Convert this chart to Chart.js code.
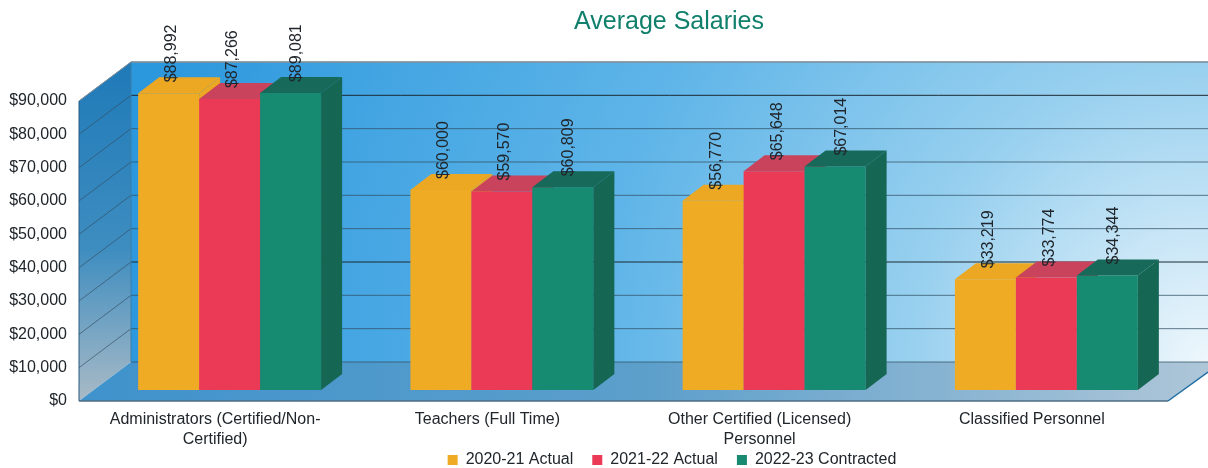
<!DOCTYPE html>
<html>
<head>
<meta charset="utf-8">
<title>Average Salaries</title>
<script src="https://cdn.jsdelivr.net/npm/chart.js@4/dist/chart.umd.min.js"></script>
<style>
  html, body { margin: 0; padding: 0; background: #fff; }
  #wrap { width: 1208px; height: 468px; }
</style>
</head>
<body>
<div id="wrap"><canvas id="myChart" width="1208" height="468"></canvas></div>
<script>
// data
var categories = [
    ['Administrators (Certified/Non-', 'Certified)'],
    'Teachers (Full Time)',
    ['Other Certified (Licensed)', 'Personnel'],
    'Classified Personnel'
];
var actual2021 = [88992, 60000, 56770, 33219];
var actual2122 = [87266, 59570, 65648, 33774];
var contracted2223 = [89081, 60809, 67014, 34344];
var yTicks = [0, 10000, 20000, 30000, 40000, 50000, 60000, 70000, 80000, 90000];

var ink = '#20262b';
var font = '"Liberation Sans", Arial, sans-serif';

// depth of the fake 3d box and of the bars
var boxDx = 52, boxDy = -39;
var barDx = 21, barDy = -16;
var barShiftX = 14.5, barShiftY = -11;

function money(v) {
    return '$' + v.toLocaleString('en-US');
}

function poly(ctx, pts, fill) {
    ctx.beginPath();
    ctx.moveTo(pts[0][0], pts[0][1]);
    for (var i = 1; i < pts.length; i++) {
        ctx.lineTo(pts[i][0], pts[i][1]);
    }
    ctx.closePath();
    ctx.fillStyle = fill;
    ctx.fill();
}

function line(ctx, x1, y1, x2, y2, color, w) {
    ctx.beginPath();
    ctx.moveTo(x1, y1);
    ctx.lineTo(x2, y2);
    ctx.strokeStyle = color;
    ctx.lineWidth = w;
    ctx.stroke();
}

// walls, floor and grid lines
var boxPlugin = {
    id: 'box',
    beforeDatasetsDraw: function(chart) {
        var ctx = chart.ctx;
        var a = chart.chartArea;
        var y = chart.scales.y;
        var w = chart.width;
        var bx = a.left + boxDx;

        var back = ctx.createRadialGradient(1208, 362, 0, 1208, 362, 1100);
        back.addColorStop(0, '#eef7fc');
        back.addColorStop(0.27, '#98d0ef');
        back.addColorStop(0.55, '#5fb5e8');
        back.addColorStop(1, '#2b97dd');
        ctx.fillStyle = back;
        ctx.fillRect(bx, a.top + boxDy, w - bx, a.bottom - a.top);

        var side = ctx.createLinearGradient(0, a.top + boxDy, 0, a.bottom);
        side.addColorStop(0, '#1f7ab8');
        side.addColorStop(0.55, '#3e8dc0');
        side.addColorStop(1, '#a9bac6');
        poly(ctx, [[a.left, a.top], [bx, a.top + boxDy], [bx, a.bottom + boxDy], [a.left, a.bottom]], side);

        var floor = ctx.createLinearGradient(a.left, 0, w, 0);
        floor.addColorStop(0, '#3f92cc');
        floor.addColorStop(0.5, '#5c9fcb');
        floor.addColorStop(1, '#aec6d8');
        poly(ctx, [[a.left, a.bottom], [bx, a.bottom + boxDy], [w, a.bottom + boxDy], [w, a.bottom + boxDy + 10], [a.right, a.bottom]], floor);

        yTicks.forEach(function(t) {
            var py = y.getPixelForValue(t);
            if (t > 0) {
                line(ctx, a.left, py, bx, py + boxDy, 'rgba(50,75,95,0.65)', 1);
            }
            var dark = (t === 30000 || t === 80000);
            line(ctx, bx, py + boxDy, w, py + boxDy, dark ? '#1c2a33' : 'rgba(50,80,100,0.75)', 1);
        });

        line(ctx, a.left, a.top, bx, a.top + boxDy, '#7f97a8', 1);
        line(ctx, bx, a.top + boxDy, w, a.top + boxDy, '#8a9aa5', 1.5);
        line(ctx, bx, a.top + boxDy, bx, a.bottom + boxDy, '#3d7fa8', 1);
        line(ctx, a.left, a.top, a.left, a.bottom, '#2a5a80', 1);
        line(ctx, a.left, a.bottom, a.right, a.bottom, '#4d6c85', 1.5);
        line(ctx, a.right, a.bottom, w, a.bottom + boxDy + 10, '#1f6ea5', 1.5);
    },
    // chart.js paints the last dataset first, here the first must be at the back
    beforeDatasetDraw: function() {
        return false;
    },
    afterDatasetsDraw: function(chart) {
        var ctx = chart.ctx;
        // bars sit inside the box, not on its front edge
        ctx.save();
        ctx.translate(barShiftX, barShiftY);
        chart.data.datasets.forEach(function(ds, i) {
            chart.getDatasetMeta(i).data.forEach(function(bar) {
                bar.draw(ctx);
                var p = bar.getProps(['x', 'y', 'base', 'width'], true);
                var l = p.x - p.width / 2, r = p.x + p.width / 2;
                poly(ctx, [[l, p.y], [l + barDx, p.y + barDy], [r + barDx, p.y + barDy], [r, p.y]], ds.topColor);
                poly(ctx, [[r, p.y], [r + barDx, p.y + barDy], [r + barDx, p.base + barDy], [r, p.base]], ds.sideColor);
            });
        });
        ctx.restore();
        // rotated value labels, on top of everything
        chart.data.datasets.forEach(function(ds, i) {
            chart.getDatasetMeta(i).data.forEach(function(bar, j) {
                ctx.save();
                ctx.translate(bar.x + barShiftX + ds.labelNudge, bar.y + barShiftY - 11);
                ctx.rotate(-Math.PI / 2);
                ctx.font = '16px ' + font;
                ctx.fillStyle = ink;
                ctx.textAlign = 'left';
                ctx.textBaseline = 'middle';
                ctx.fillText(money(ds.data[j]), 0, 0);
                ctx.restore();
            });
        });
    },
    // title and legend are off centre in the picture, x labels need room below the axis
    afterLayout: function(chart) {
        chart.titleBlock.left += 85;
        chart.titleBlock.right += 85;
        chart.legend.left += 88;
        chart.legend.right += 88;
        chart.legend.top += 10;
        chart.legend.bottom += 10;
        chart.scales.x.bottom = chart.height;
    }
};

var ctx = document.getElementById('myChart').getContext('2d');
var myChart = new Chart(ctx, {
    type: 'bar',
    data: {
        labels: categories,
        datasets: [
            { label: '2020-21 Actual', data: actual2021, backgroundColor: '#f0ab25', topColor: '#eca823', sideColor: '#eca823', labelNudge: 3, clip: false },
            { label: '2021-22 Actual', data: actual2122, backgroundColor: '#ea3a55', topColor: '#c9435c', sideColor: '#b53048', labelNudge: 3, clip: false },
            { label: '2022-23 Contracted', data: contracted2223, backgroundColor: '#168b72', topColor: '#17695a', sideColor: '#156653', labelNudge: 6, clip: false }
        ]
    },
    options: {
        responsive: false,
        animation: false,
        categoryPercentage: 0.672,
        barPercentage: 1,
        layout: { padding: { left: 0, right: 40, top: 0, bottom: 0 } },
        plugins: {
            title: {
                display: true,
                text: 'Average Salaries',
                color: '#10806c',
                font: { family: font, size: 25, weight: 'normal' },
                padding: { top: 7, bottom: 64 }
            },
            legend: {
                position: 'bottom',
                labels: {
                    color: ink,
                    font: { family: font, size: 16 },
                    boxWidth: 10,
                    boxHeight: 10,
                    padding: 19
                }
            },
            tooltip: { enabled: false }
        },
        scales: {
            x: {
                grid: { display: false, drawTicks: false, tickLength: 0 },
                border: { display: false },
                afterFit: function(scale) { scale.height = 22; },
                ticks: {
                    color: ink,
                    font: { family: font, size: 16, lineHeight: 1.25 },
                    maxRotation: 0,
                    autoSkip: false,
                    padding: 9
                }
            },
            y: {
                min: 0,
                max: 90000,
                grid: { display: false, drawTicks: false, tickLength: 0 },
                border: { display: false },
                afterFit: function(scale) { scale.width = 79; },
                afterBuildTicks: function(scale) {
                    scale.ticks = yTicks.map(function(v) { return { value: v }; });
                },
                ticks: {
                    color: ink,
                    font: { family: font, size: 16 },
                    padding: 12,
                    callback: function(v) { return money(v); }
                }
            }
        }
    },
    plugins: [boxPlugin]
});
</script>
</body>
</html>
